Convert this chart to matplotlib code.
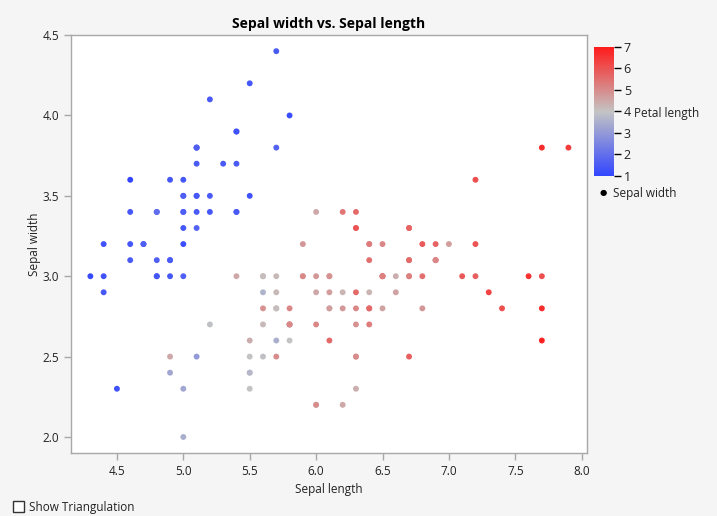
import numpy as np
import matplotlib.pyplot as plt
from matplotlib.colors import LinearSegmentedColormap

plt.rcParams['font.family'] = ['Open Sans', 'DejaVu Sans']

# iris measurements
sepal_length = [
    5.1, 4.9, 4.7, 4.6, 5.0, 5.4, 4.6, 5.0, 4.4, 4.9, 5.4, 4.8, 4.8, 4.3, 5.8, 5.7, 5.4, 5.1, 5.7, 5.1,
    5.4, 5.1, 4.6, 5.1, 4.8, 5.0, 5.0, 5.2, 5.2, 4.7, 4.8, 5.4, 5.2, 5.5, 4.9, 5.0, 5.5, 4.9, 4.4, 5.1,
    5.0, 4.5, 4.4, 5.0, 5.1, 4.8, 5.1, 4.6, 5.3, 5.0,
    7.0, 6.4, 6.9, 5.5, 6.5, 5.7, 6.3, 4.9, 6.6, 5.2, 5.0, 5.9, 6.0, 6.1, 5.6, 6.7, 5.6, 5.8, 6.2, 5.6,
    5.9, 6.1, 6.3, 6.1, 6.4, 6.6, 6.8, 6.7, 6.0, 5.7, 5.5, 5.5, 5.8, 6.0, 5.4, 6.0, 6.7, 6.3, 5.6, 5.5,
    5.5, 6.1, 5.8, 5.0, 5.6, 5.7, 5.7, 6.2, 5.1, 5.7,
    6.3, 5.8, 7.1, 6.3, 6.5, 7.6, 4.9, 7.3, 6.7, 7.2, 6.5, 6.4, 6.8, 5.7, 5.8, 6.4, 6.5, 7.7, 7.7, 6.0,
    6.9, 5.6, 7.7, 6.3, 6.7, 7.2, 6.2, 6.1, 6.4, 7.2, 7.4, 7.9, 6.4, 6.3, 6.1, 7.7, 6.3, 6.4, 6.0, 6.9,
    6.7, 6.9, 5.8, 6.8, 6.7, 6.7, 6.3, 6.5, 6.2, 5.9,
]
sepal_width = [
    3.5, 3.0, 3.2, 3.1, 3.6, 3.9, 3.4, 3.4, 2.9, 3.1, 3.7, 3.4, 3.0, 3.0, 4.0, 4.4, 3.9, 3.5, 3.8, 3.8,
    3.4, 3.7, 3.6, 3.3, 3.4, 3.0, 3.4, 3.5, 3.4, 3.2, 3.1, 3.4, 4.1, 4.2, 3.1, 3.2, 3.5, 3.6, 3.0, 3.4,
    3.5, 2.3, 3.2, 3.5, 3.8, 3.0, 3.8, 3.2, 3.7, 3.3,
    3.2, 3.2, 3.1, 2.3, 2.8, 2.8, 3.3, 2.4, 2.9, 2.7, 2.0, 3.0, 2.2, 2.9, 2.9, 3.1, 3.0, 2.7, 2.2, 2.5,
    3.2, 2.8, 2.5, 2.8, 2.9, 3.0, 2.8, 3.0, 2.9, 2.6, 2.4, 2.4, 2.7, 2.7, 3.0, 3.4, 3.1, 2.3, 3.0, 2.5,
    2.6, 3.0, 2.6, 2.3, 2.7, 3.0, 2.9, 2.9, 2.5, 2.8,
    3.3, 2.7, 3.0, 2.9, 3.0, 3.0, 2.5, 2.9, 2.5, 3.6, 3.2, 2.7, 3.0, 2.5, 2.8, 3.2, 3.0, 3.8, 2.6, 2.2,
    3.2, 2.8, 2.8, 2.7, 3.3, 3.2, 2.8, 3.0, 2.8, 3.0, 2.8, 3.8, 2.8, 2.8, 2.6, 3.0, 3.4, 3.1, 3.0, 3.1,
    3.1, 3.1, 2.7, 3.2, 3.3, 3.0, 2.5, 3.0, 3.4, 3.0,
]
petal_length = [
    1.4, 1.4, 1.3, 1.5, 1.4, 1.7, 1.4, 1.5, 1.4, 1.5, 1.5, 1.6, 1.4, 1.1, 1.2, 1.5, 1.3, 1.4, 1.7, 1.5,
    1.7, 1.5, 1.0, 1.7, 1.9, 1.6, 1.6, 1.5, 1.4, 1.6, 1.6, 1.5, 1.5, 1.4, 1.5, 1.2, 1.3, 1.4, 1.3, 1.5,
    1.3, 1.3, 1.3, 1.6, 1.9, 1.4, 1.6, 1.4, 1.5, 1.4,
    4.7, 4.5, 4.9, 4.0, 4.6, 4.5, 4.7, 3.3, 4.6, 3.9, 3.5, 4.2, 4.0, 4.7, 3.6, 4.4, 4.5, 4.1, 4.5, 3.9,
    4.8, 4.0, 4.9, 4.7, 4.3, 4.4, 4.8, 5.0, 4.5, 3.5, 3.8, 3.7, 3.9, 5.1, 4.5, 4.5, 4.7, 4.4, 4.1, 4.0,
    4.4, 4.6, 4.0, 3.3, 4.2, 4.2, 4.2, 4.3, 3.0, 4.1,
    6.0, 5.1, 5.9, 5.6, 5.8, 6.6, 4.5, 6.3, 5.8, 6.1, 5.1, 5.3, 5.5, 5.0, 5.1, 5.3, 5.5, 6.7, 6.9, 5.0,
    5.7, 4.9, 6.7, 4.9, 5.7, 6.0, 4.8, 4.9, 5.6, 5.8, 6.1, 6.4, 5.6, 5.1, 5.6, 6.1, 5.6, 5.5, 4.8, 5.4,
    5.6, 5.1, 5.1, 5.9, 5.7, 5.2, 5.0, 5.2, 5.4, 5.1,
]

x_ticks = [4.5, 5.0, 5.5, 6.0, 6.5, 7.0, 7.5, 8.0]
y_ticks = [2.0, 2.5, 3.0, 3.5, 4.0, 4.5]
cbar_ticks = [1, 2, 3, 4, 5, 6, 7]

bg = '#f5f5f5'
spine = '#a8a8a8'
txt = '#222222'

cmap = LinearSegmentedColormap.from_list('bgr', ['#3246ff', '#c4c4c4', '#ff1c1c'])

fig = plt.figure(figsize=(7.17, 5.16), dpi=100, facecolor=bg)
ax = fig.add_axes([0.099, 0.122, 0.7197, 0.810])
ax.set_facecolor('white')

ax.scatter(sepal_length, sepal_width, c=petal_length, cmap=cmap, vmin=1, vmax=7,
           s=18, linewidths=0, zorder=3)

ax.set_xlim(4.154, 8.04)
ax.set_ylim(1.9, 4.5)
ax.set_xticks(x_ticks)
ax.set_xticklabels([f'{v:.1f}' for v in x_ticks])
ax.set_yticks(y_ticks)
ax.set_yticklabels([f'{v:.1f}' for v in y_ticks])
ax.tick_params(colors=spine, labelcolor=txt, labelsize=8.5, length=5, width=1)
for s in ax.spines.values():
    s.set_color(spine)
    s.set_linewidth(1)

ax.set_xlabel('Sepal length', fontsize=8.5, color=txt, labelpad=4)
ax.set_ylabel('Sepal width', fontsize=8.5, color=txt, labelpad=1)
ax.set_title('Sepal width vs. Sepal length', fontsize=10, fontweight='bold', color='black', pad=5)

# colour scale for petal length
cax = fig.add_axes([594 / 717, 1 - 176 / 516, 20 / 717, 129 / 516])
gradient = np.linspace(1, 7, 256).reshape(-1, 1)
cax.imshow(gradient, aspect='auto', cmap=cmap, origin='lower', extent=[0, 1, 1, 7])
cax.set_xticks([])
cax.yaxis.tick_right()
cax.set_yticks(cbar_ticks)
cax.tick_params(axis='y', length=5, width=1, labelsize=9, labelcolor=txt, pad=2)
for t, v in zip(cax.yaxis.get_ticklines()[1::2], cbar_ticks):
    t.set_color(cmap((v - 1) / 6))
for s in cax.spines.values():
    s.set_visible(False)
fig.text(634 / 717, 1 - 113 / 516, 'Petal length', fontsize=8.5, color=txt, va='center')

# legend entry for the marker
fig.text(603 / 717, 1 - 194 / 516, '\u25cf', fontsize=6, color='black', va='center', ha='center')
fig.text(613 / 717, 1 - 194 / 516, 'Sepal width', fontsize=8.5, color=txt, va='center')

# checkbox control at the bottom
box = plt.Rectangle((13 / 717, 1 - 512 / 516), 11 / 717, 11 / 516, transform=fig.transFigure,
                    facecolor='white', edgecolor='#333333', linewidth=1)
fig.add_artist(box)
fig.text(29 / 717, 1 - 507 / 516, 'Show Triangulation', fontsize=8.5, color=txt, va='center')

fig.savefig('out.png', dpi=100, facecolor=bg)
